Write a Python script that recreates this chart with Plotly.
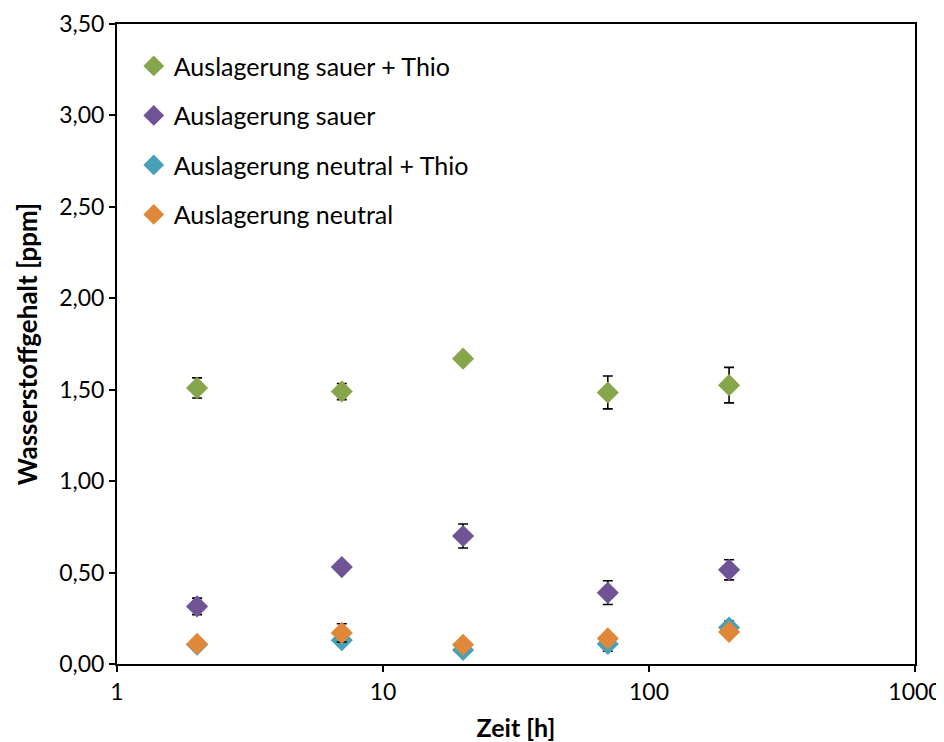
import plotly.graph_objects as go

time_h = [2, 7, 20, 70, 200]

series_names = [
    "Auslagerung sauer + Thio",
    "Auslagerung sauer",
    "Auslagerung neutral + Thio",
    "Auslagerung neutral",
]
sauer_thio = [1.51, 1.49, 1.67, 1.485, 1.525]
sauer_thio_err = [0.055, 0.044, 0.02, 0.09, 0.097]
sauer = [0.315, 0.53, 0.70, 0.39, 0.515]
sauer_err = [0.045, 0.0, 0.066, 0.065, 0.055]
neutral_thio = [0.105, 0.13, 0.077, 0.11, 0.20]
neutral_thio_err = [0.0, 0.0, 0.0, 0.04, 0.035]
neutral = [0.11, 0.17, 0.105, 0.14, 0.175]
neutral_err = [0.0, 0.05, 0.0, 0.0, 0.0]

colors = ["#87A54B", "#6E5494", "#4AA0B7", "#E0883A"]

x_tickvals = [1, 10, 100, 1000]
x_ticktext = ["1", "10", "100", "1000"]
y_tickvals = [0, 0.5, 1.0, 1.5, 2.0, 2.5, 3.0, 3.5]
y_ticktext = ["0,00", "0,50", "1,00", "1,50", "2,00", "2,50", "3,00", "3,50"]

fig = go.Figure()
for i, (name, ys, errs) in enumerate(zip(
        series_names,
        [sauer_thio, sauer, neutral_thio, neutral],
        [sauer_thio_err, sauer_err, neutral_thio_err, neutral_err])):
    fig.add_trace(go.Scatter(
        x=time_h, y=ys, name=name, mode="markers",
        legendgroup=f"g{i}",
        marker=dict(symbol="diamond", size=17, color=colors[i], line=dict(width=0)),
        error_y=dict(type="data", array=errs, visible=True, color="black",
                     thickness=1.6, width=5),
    ))

font_main = "Lato, 'Open Sans', sans-serif"
fig.update_layout(
    width=936, height=734,
    margin=dict(l=109, r=29, t=16, b=78, autoexpand=False),
    paper_bgcolor="white", plot_bgcolor="white",
    font=dict(family=font_main, size=23, color="black"),
    showlegend=True,
    legend=dict(x=0.021, y=0.97, xanchor="left", yanchor="top",
                bgcolor="rgba(0,0,0,0)", font=dict(size=25, family=font_main),
                tracegroupgap=14, itemwidth=30, traceorder="grouped"),
    xaxis=dict(type="log", range=[0, 3], tickvals=x_tickvals, ticktext=x_ticktext,
               showline=True, linecolor="black", linewidth=2, mirror=True,
               ticks="outside", ticklen=6, tickwidth=2, tickcolor="black",
               showgrid=False, zeroline=False, automargin=True,
               ticklabeloverflow="allow",
               title=dict(text="<b>Zeit [h]</b>", font=dict(size=25), standoff=18)),
    yaxis=dict(range=[0, 3.5], tickvals=y_tickvals, ticktext=y_ticktext,
               showline=True, linecolor="black", linewidth=2, mirror=True,
               ticks="outside", ticklen=6, tickwidth=2, tickcolor="black",
               showgrid=False, zeroline=False, automargin=False,
               ticklabeloverflow="allow",
               title=dict(text="<b>Wasserstoffgehalt [ppm]</b>", font=dict(size=26), standoff=14)),
)

fig.write_html("out.html")
